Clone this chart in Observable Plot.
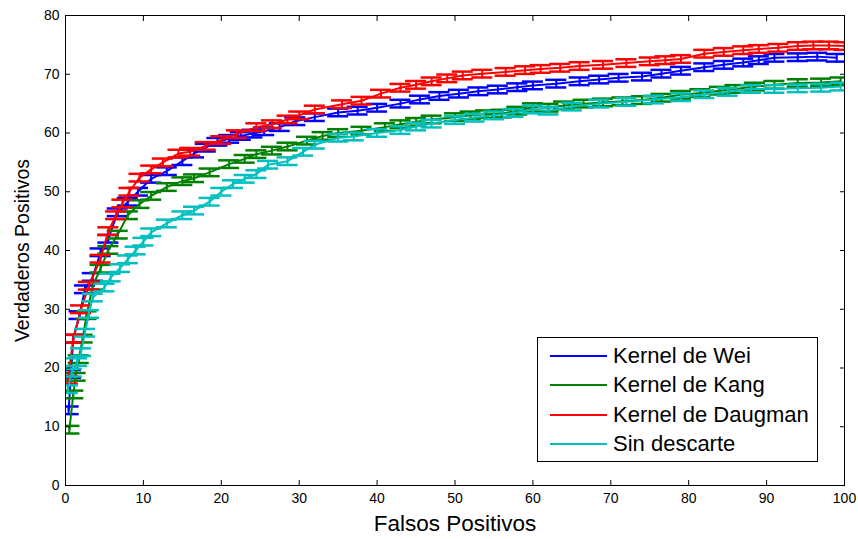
<!DOCTYPE html>
<html><head><meta charset="utf-8">
<script src="https://cdn.jsdelivr.net/npm/d3@7"></script>
<script src="https://cdn.jsdelivr.net/npm/@observablehq/plot@0.6"></script>
<style>
body{margin:0;background:#fff;}
#wrap{position:relative;width:858px;height:539px;font-family:"Liberation Sans",Arial,sans-serif;}
#legend{position:absolute;left:537px;top:337px;width:279px;height:123px;border:1px solid #000;background:#fff;}
.row{position:absolute;left:12px;height:28px;display:flex;align-items:center;font-size:22px;color:#000;white-space:nowrap;}
.sw{width:57px;height:2px;margin-right:6px;}
</style></head><body><div id="wrap"></div>
<script>
// ---- data ----
const seriesNames = ["Kernel de Wei", "Kernel de Kang", "Kernel de Daugman", "Sin descarte"];
const seriesColors = ["#0000ff", "#008000", "#ff0000", "#00bfbf"];

const weiX = [0.4,0.7,1,1.8,2.5,3.5,4.5,5.5,6.7,8,9.3,11,13,15,16.5,18,19.5,21,22.5,24,25.5,27.5,29.5,32,35,37.5,40,43,45.5,48,50.5,53,55.5,58,60,63,66,68.5,71,74,76.5,79,82,84.5,87,89,91,94,96.5,99];
const weiY = [12.8,19,25,29,33.4,35.5,39.7,42,46.5,48.3,50,52.2,53.5,55.2,56.5,57.5,58.5,59,59.5,59.9,60.3,61,62,62.7,63.5,63.8,64.3,65,65.7,66.3,66.7,67.1,67.4,67.8,68.1,68.4,68.8,69.1,69.4,69.6,70.1,70.6,71.2,71.6,72,72.4,72.8,72.9,73,72.8];

const kangX = [0.5,1,1.3,1.7,2.2,2.7,3.5,4.5,5.5,6.7,8,9.5,11,13,15,16.5,18.5,21,23,24.5,26.5,28.5,31,33,35,38,41,43,45,47,50,52,54,56,58,60,62,64,66.5,69,71.5,74,76.5,79,81.5,84,86,88.5,91,94,97,99.5];
const kangY = [9.5,15.5,18.5,21.5,25,29,34,36.9,40.1,42.7,46,47.9,49.3,50.8,51.8,52.3,53.3,54.7,55.6,56.4,57,57.7,58.7,59.5,60,60.4,61,61.5,61.9,62.3,62.7,63,63.2,63.3,63.8,64.4,64.3,64.7,65,65.2,65.4,65.6,66,66.5,66.8,67.2,67.5,67.9,68.2,68.5,68.6,68.8];

const daugX = [0.3,1,2,3,4.5,5.5,6.5,7.3,8.2,9.5,11,12.5,14.5,16,18,20,22,24.5,26.5,28.5,30,32,35.5,38,40.5,43,45,47,49,51,53.5,56.5,59,61,63.5,66,69,72,75,77,79,82,84.5,87,89,91.5,94,96,98,100];
const daugY = [18,25,30,34,38.6,43.3,46,48,50,52.4,53.8,55,56.5,56.8,57.8,58.8,59.8,61,61.5,62.3,63,64,64.9,65.5,66.7,67.7,68.2,68.8,69.3,69.8,70.1,70.4,70.7,70.9,71.1,71.4,71.6,71.9,72.2,72.4,72.6,73.5,73.8,74.1,74.3,74.5,74.8,74.9,74.9,74.8];

const sinX = [0.3,0.8,1.5,2,2.5,3,3.5,5,5.8,7,8,9,10,11,13,15,16.5,18.5,20,21.5,23,24.5,26,28.5,30.5,32,35,37,40,43,45,47,50,52.5,55,57.5,60,62,65,68.5,72,75.5,79,82,85,88,91,94,97,99.5];
const sinY = [16.4,19.2,21,22.7,26,29.2,32,33.7,35.4,37,38.5,40,41.5,43.1,44.6,46,46.8,48.3,50,51.3,52.2,53,54.6,55.2,56.8,58,59.2,59.4,60,60.5,61.1,61.6,62.2,62.6,63,63.4,64,63.8,64.5,65,65.3,65.7,66.1,66.6,67,67.5,67.5,67.6,67.7,67.9];

const errHalf = 0.65;  // half height of each error bar
const capHalf = 1.35;  // half width of each cap (x units)

const xTicks = [0,10,20,30,40,50,60,70,80,90,100];
const yTicks = [0,10,20,30,40,50,60,70,80];

// ---- build ----
const seriesXY = [[weiX, weiY], [kangX, kangY], [daugX, daugY], [sinX, sinY]];
const tables = seriesXY.map(([xs, ys], i) => xs.map((x, j) => ({series: seriesNames[i], x, y: ys[j]})));

const marks = [];
tables.forEach((rows, i) => {
  const c = seriesColors[i];
  marks.push(Plot.line(rows, {x: "x", y: "y", stroke: c, strokeWidth: 2, clip: true}));
  marks.push(Plot.ruleX(rows, {x: "x", y1: d => d.y - errHalf, y2: d => d.y + errHalf, stroke: c, strokeWidth: 2, clip: true}));
  marks.push(Plot.ruleY(rows, {y: d => d.y - errHalf, x1: d => d.x - capHalf, x2: d => d.x + capHalf, stroke: c, strokeWidth: 2.5, clip: true}));
  marks.push(Plot.ruleY(rows, {y: d => d.y + errHalf, x1: d => d.x - capHalf, x2: d => d.x + capHalf, stroke: c, strokeWidth: 2.5, clip: true}));
});

const chart = Plot.plot({
  width: 858, height: 539,
  marginLeft: 65, marginRight: 14, marginTop: 15, marginBottom: 54,
  style: {fontFamily: '"Liberation Sans", Arial, sans-serif', fontSize: "14px", color: "#000", background: "#fff", overflow: "visible"},
  x: {domain: [0, 100]},
  y: {domain: [0, 80]},
  marks: [
    ...marks,
    Plot.frame({stroke: "#000", strokeWidth: 1}),
    // tick labels
    Plot.axisX(xTicks, {anchor: "bottom", tickSize: 0, tickPadding: 8, label: null, fontSize: 14}),
    Plot.axisY(yTicks, {anchor: "left", tickSize: 0, tickPadding: 6, label: null, fontSize: 14}),
    // inward ticks on all sides
    Plot.axisX(xTicks, {anchor: "bottom", tickSize: 5, dy: -5, tickFormat: () => "", label: null}),
    Plot.axisX(xTicks, {anchor: "top", tickSize: 5, dy: 5, tickFormat: () => "", label: null}),
    Plot.axisY(yTicks, {anchor: "left", tickSize: 5, dx: 5, tickFormat: () => "", label: null}),
    Plot.axisY(yTicks, {anchor: "right", tickSize: 5, dx: -5, tickFormat: () => "", label: null}),
    // axis titles
    Plot.text(["Falsos Positivos"], {frameAnchor: "bottom", dy: 38, lineAnchor: "middle", textAnchor: "middle", fontSize: 22.5, text: d => d}),
    Plot.text(["Verdaderos Positivos"], {frameAnchor: "left", dx: -43, rotate: -90, lineAnchor: "middle", textAnchor: "middle", fontSize: 19.5, text: d => d})
  ]
});

const wrap = document.getElementById("wrap");
wrap.appendChild(chart);

const legend = document.createElement("div");
legend.id = "legend";
seriesNames.forEach((name, i) => {
  const row = document.createElement("div");
  row.className = "row";
  row.style.top = (4 + i * 29.3) + "px";
  const sw = document.createElement("span");
  sw.className = "sw";
  sw.style.background = seriesColors[i];
  row.appendChild(sw);
  row.appendChild(document.createTextNode(name));
  legend.appendChild(row);
});
wrap.appendChild(legend);
</script></body></html>
